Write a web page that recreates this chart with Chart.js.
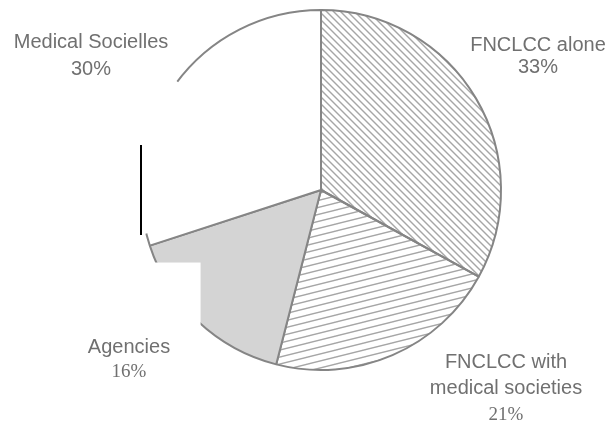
<!DOCTYPE html>
<html>
<head>
<meta charset="utf-8">
<script src="https://cdn.jsdelivr.net/npm/chart.js@4"></script>
<style>
  body { margin: 0; background: #fff; }
  #wrap { width: 611px; height: 424px; position: relative; }
</style>
</head>
<body>
<div id="wrap"><canvas id="pie"></canvas></div>
<script>
// Chart data
const categories = ["FNCLCC alone", "FNCLCC with medical societies", "Agencies", "Medical Socielles"];
const shares = [33, 21, 16, 30];
const labelLines = [["FNCLCC alone"], ["FNCLCC with", "medical societies"], ["Agencies"], ["Medical Socielles"]];

// hatch patterns like the printed figure
function hatch(w, h, segs, color) {
  const c = document.createElement("canvas");
  c.width = w;
  c.height = h;
  const g = c.getContext("2d");
  g.strokeStyle = color;
  g.lineWidth = 1.4;
  segs.forEach((s) => {
    g.beginPath();
    g.moveTo(s[0], s[1]);
    g.lineTo(s[2], s[3]);
    g.stroke();
  });
  return document.createElement("canvas").getContext("2d").createPattern(c, "repeat");
}

const downDiag = hatch(7, 7, [[0, 0, 7, 7], [-7, 0, 7, 14], [0, -7, 14, 7]], "#a6a6a6");
const shallowUp = hatch(28, 7, [[0, 7, 28, 0], [0, 14, 28, 7], [0, 0, 28, -7]], "#a6a6a6");

const fills = [downDiag, shallowUp, "#d4d4d4", "#ffffff"];

// label placement (text centre x, first baseline y, line gap)
const labelPos = [
  { x: 538, y: 51, gap: 22, serif: false },
  { x: 506, y: 368, gap: 26, serif: true },
  { x: 129, y: 353, gap: 24, serif: true },
  { x: 91, y: 48, gap: 27, serif: false },
];

// the scan of the original lost parts of the outline; mimic that
const scanDamage = {
  id: "scanDamage",
  afterDatasetsDraw(chart) {
    const arc = chart.getDatasetMeta(0).data[0];
    const cx = arc.x, cy = arc.y, r = arc.outerRadius;
    const ctx = chart.ctx;
    const toRad = (d) => ((d - 90) * Math.PI) / 180;
    ctx.save();
    ctx.strokeStyle = "#fff";
    ctx.lineWidth = 6;
    ctx.beginPath();
    ctx.arc(cx, cy, r, toRad(256), toRad(307));
    ctx.stroke();
    ctx.fillStyle = "#fff";
    ctx.fillRect(cx - r - 6, cy + 0.403 * r, 0.331 * r + 6, 0.38 * r);
    ctx.strokeStyle = "#000";
    ctx.lineWidth = 2;
    ctx.beginPath();
    ctx.moveTo(cx - r, cy - 45);
    ctx.lineTo(cx - r, cy + 45);
    ctx.stroke();
    ctx.restore();
  },
  afterDraw(chart) {
    const ctx = chart.ctx;
    ctx.save();
    ctx.fillStyle = "#707070";
    ctx.textAlign = "center";
    ctx.textBaseline = "alphabetic";
    labelLines.forEach((lines, i) => {
      const p = labelPos[i];
      ctx.font = '20px "Liberation Sans", Arial, sans-serif';
      lines.forEach((t, k) => ctx.fillText(t, p.x, p.y + k * p.gap));
      ctx.font = p.serif ? '19px "Liberation Serif", "Times New Roman", serif' : '20px "Liberation Sans", Arial, sans-serif';
      ctx.fillText(shares[i] + "%", p.x, p.y + lines.length * p.gap);
    });
    ctx.restore();
  },
};

new Chart(document.getElementById("pie"), {
  type: "pie",
  data: {
    labels: categories,
    datasets: [
      {
        data: shares,
        backgroundColor: fills,
        borderColor: "#858585",
        borderWidth: 2,
      },
    ],
  },
  options: {
    responsive: true,
    maintainAspectRatio: false,
    animation: false,
    layout: { padding: { left: 140, right: 109, top: 9, bottom: 53 } },
    plugins: {
      legend: { display: false },
      tooltip: { enabled: false },
    },
  },
  plugins: [scanDamage],
});
</script>
</body>
</html>
